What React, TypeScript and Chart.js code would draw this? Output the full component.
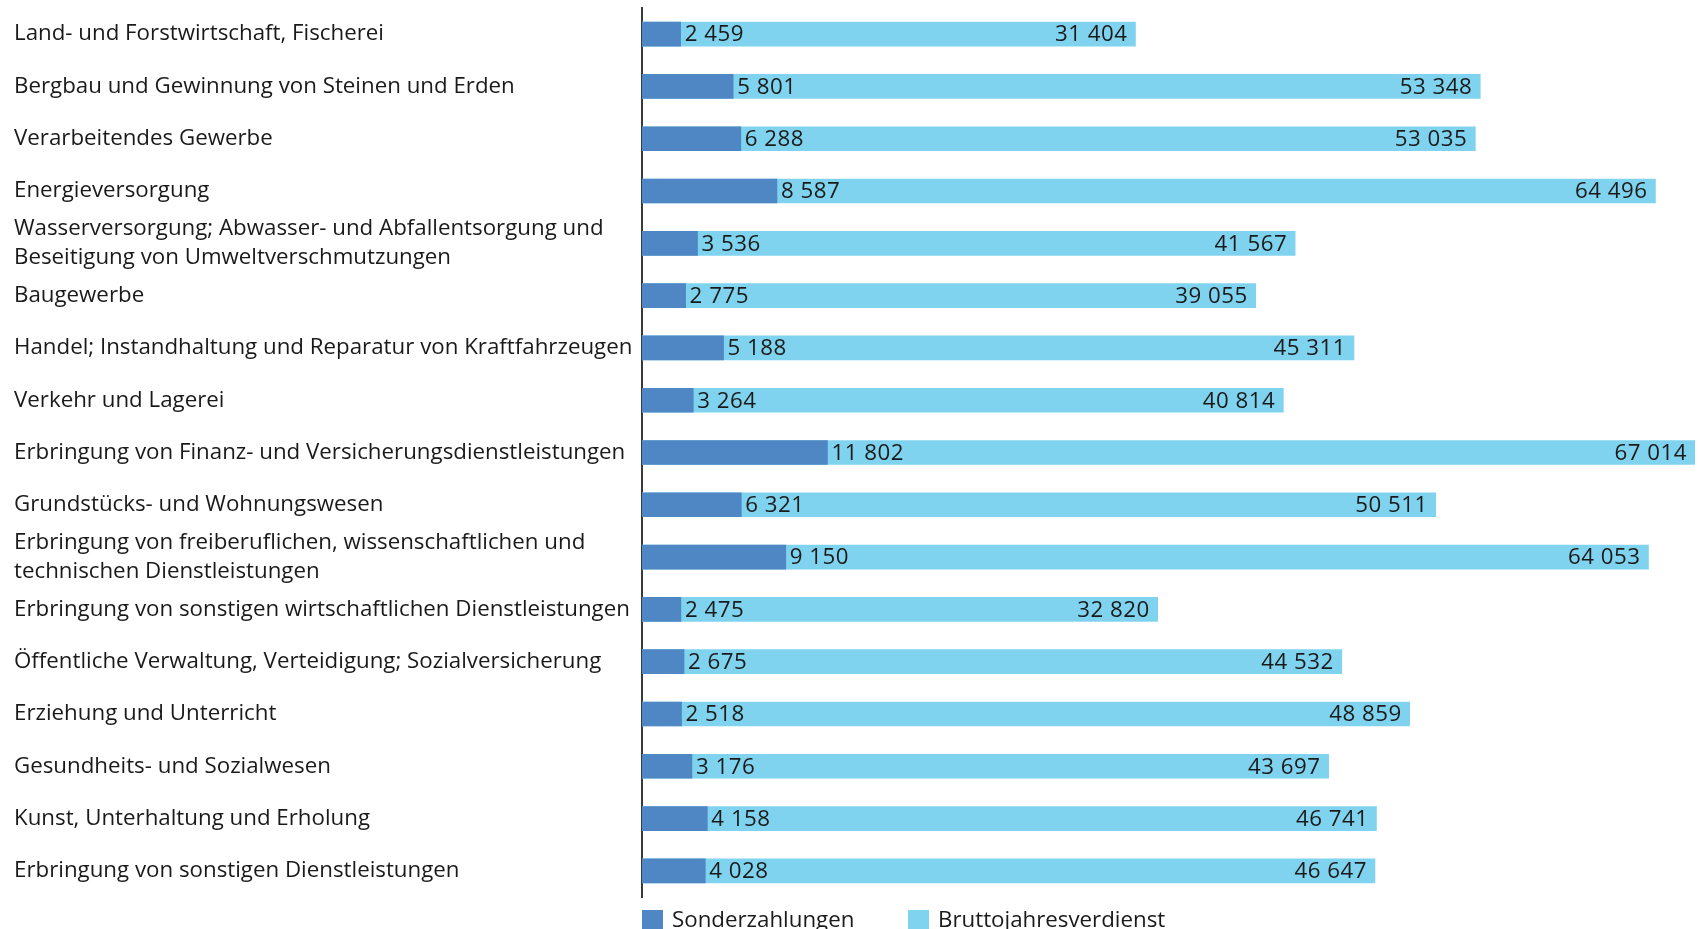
import React, { useEffect, useRef } from "react";
import { Chart, registerables } from "chart.js";

Chart.register(...registerables);

const categories: (string | string[])[] = [
  "Land- und Forstwirtschaft, Fischerei",
  "Bergbau und Gewinnung von Steinen und Erden",
  "Verarbeitendes Gewerbe",
  "Energieversorgung",
  ["Wasserversorgung; Abwasser- und Abfallentsorgung und", "Beseitigung von Umweltverschmutzungen"],
  "Baugewerbe",
  "Handel; Instandhaltung und Reparatur von Kraftfahrzeugen",
  "Verkehr und Lagerei",
  "Erbringung von Finanz- und Versicherungsdienstleistungen",
  "Grundstücks- und Wohnungswesen",
  ["Erbringung von freiberuflichen, wissenschaftlichen und", "technischen Dienstleistungen"],
  "Erbringung von sonstigen wirtschaftlichen Dienstleistungen",
  "Öffentliche Verwaltung, Verteidigung; Sozialversicherung",
  "Erziehung und Unterricht",
  "Gesundheits- und Sozialwesen",
  "Kunst, Unterhaltung und Erholung",
  "Erbringung von sonstigen Dienstleistungen",
];

const sonderzahlungen: number[] = [
  2459, 5801, 6288, 8587, 3536, 2775, 5188, 3264, 11802, 6321, 9150, 2475, 2675, 2518, 3176, 4158, 4028,
];

const bruttojahresverdienst: number[] = [
  31404, 53348, 53035, 64496, 41567, 39055, 45311, 40814, 67014, 50511, 64053, 32820, 44532, 48859, 43697, 46741, 46647,
];

const seriesNames = ["Sonderzahlungen", "Bruttojahresverdienst"];
const DARK = "#4f87c5";
const LIGHT = "#7fd3ef";
const TEXT = "#1a1a1a";
const FONT = "'Open Sans'";
const FONT_SIZE = 22.3;
const FONT_WEIGHT = 500;

const fmt = (v: number) => String(v).replace(/\B(?=(\d{3})+(?!\d))/g, " ");

const valueLabels = {
  id: "valueLabels",
  afterDatasetsDraw(chart: any) {
    const ctx = chart.ctx;
    ctx.save();
    ctx.font = `${FONT_WEIGHT} ${FONT_SIZE}px ${FONT}`;
    try { (ctx as any).letterSpacing = "0.5px"; } catch (e) {}
    ctx.fillStyle = TEXT;
    ctx.textBaseline = "middle";
    chart.data.datasets.forEach((ds: any, di: number) => {
      const meta = chart.getDatasetMeta(di);
      meta.data.forEach((el: any, i: number) => {
        const v = ds.data[i];
        if (di === 0) {
          ctx.textAlign = "left";
          ctx.fillText(fmt(v), el.x + 4, el.y + 1);
        } else {
          ctx.textAlign = "right";
          ctx.fillText(fmt(v), el.x - 8, el.y + 1);
        }
      });
    });
    ctx.restore();
  },
};

const customLegend = {
  id: "customLegend",
  afterDraw(chart: any) {
    const ctx = chart.ctx;
    const left = chart.chartArea.left;
    ctx.save();
    ctx.font = `${FONT_WEIGHT} ${FONT_SIZE}px ${FONT}`;
    ctx.textBaseline = "alphabetic";
    ctx.textAlign = "left";
    let x = left;
    const top = 910;
    chart.data.datasets.forEach((ds: any) => {
      ctx.fillStyle = ds.backgroundColor;
      ctx.fillRect(x, top, 21, 21);
      ctx.fillStyle = TEXT;
      ctx.fillText(ds.label, x + 30, 927);
      x += 266;
    });
    ctx.restore();
  },
};

export default function App() {
  const ref = useRef<HTMLCanvasElement | null>(null);
  useEffect(() => {
    if (!ref.current) return;
    const chart = new Chart(ref.current, {
      type: "bar",
      data: {
        labels: categories,
        datasets: [
          {
            label: seriesNames[0],
            data: sonderzahlungen,
            backgroundColor: DARK,
            grouped: false,
            barThickness: 24,
          } as any,
          {
            label: seriesNames[1],
            data: bruttojahresverdienst,
            backgroundColor: LIGHT,
            grouped: false,
            barThickness: 24,
          } as any,
        ],
      },
      options: {
        indexAxis: "y",
        animation: false,
        responsive: true,
        maintainAspectRatio: false,
        layout: { padding: { left: 14, right: 9, top: 8, bottom: 32 } },
        plugins: {
          legend: { display: false },
          tooltip: { enabled: false },
        },
        scales: {
          x: { display: false, min: 0, max: 67014 },
          y: {
            grid: { display: false, drawTicks: false },
            border: { display: true, color: "#3a3a3a", width: 2 },
            ticks: {
              crossAlign: "far",
              color: TEXT,
              padding: 0,
              autoSkip: false,
              font: { family: FONT, size: FONT_SIZE, weight: FONT_WEIGHT, lineHeight: 29 / FONT_SIZE },
            },
            afterFit(scale: any) {
              scale.width = 628;
              scale.paddingTop = 0;
              scale.paddingBottom = 0;
            },
          },
        },
      },
      plugins: [valueLabels, customLegend],
    });
    return () => chart.destroy();
  }, []);
  return (
    <div style={{ position: "fixed", left: 0, top: 0, width: 1704, height: 929 }}>
      <canvas ref={ref} />
    </div>
  );
}
